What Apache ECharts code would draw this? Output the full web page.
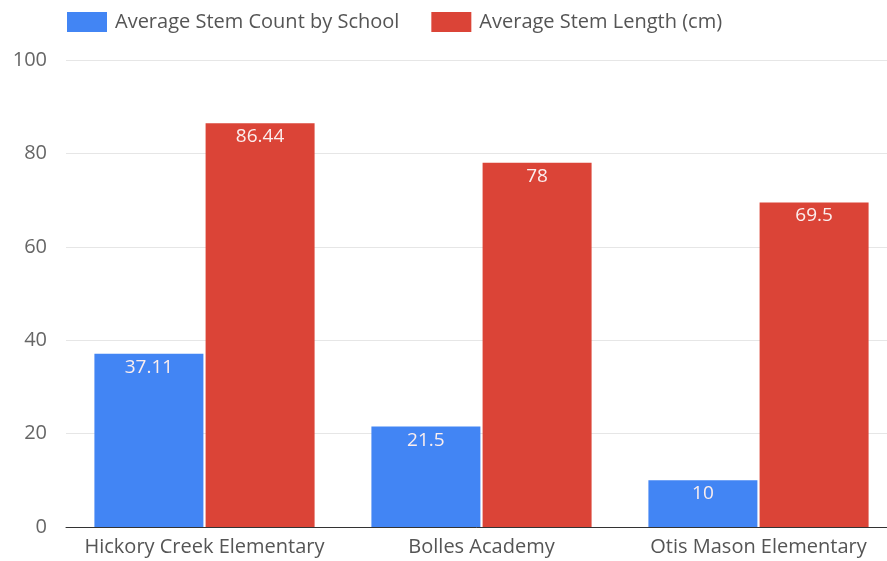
<!DOCTYPE html>
<html><head><meta charset="utf-8">
<script src="https://cdn.jsdelivr.net/npm/echarts@6/dist/echarts.min.js"></script>
<style>html,body{margin:0;padding:0;background:#fff}#c{width:887px;height:561px}</style>
</head><body><div id="c"></div>
<script>
const categories = ['Hickory Creek Elementary', 'Bolles Academy', 'Otis Mason Elementary'];
const seriesNames = ['Average Stem Count by School', 'Average Stem Length (cm)'];
const stemCount = [37.11, 21.5, 10];
const stemLength = [86.44, 78, 69.5];
const yTicks = [0, 20, 40, 60, 80, 100];

const font = '"Open Sans", sans-serif';
const chart = echarts.init(document.getElementById('c'));
const lbl = {show: true, position: 'insideTop', distance: 4, color: '#fbeeee', fontSize: 19, fontFamily: font};
chart.setOption({
  animation: false,
  textStyle: {fontFamily: font},
  legend: {
    left: 67, top: 12, padding: 0, itemWidth: 40, itemHeight: 20, itemGap: 32,
    icon: 'rect',
    textStyle: {fontSize: 20, color: '#555', fontFamily: font, padding: [0, 0, 0, 3]},
    data: seriesNames
  },
  grid: {left: 66, width: 831, top: 60, bottom: 34, containLabel: false, outerBoundsMode: 'none'},
  xAxis: {
    type: 'category', data: categories,
    axisLine: {lineStyle: {color: '#333', width: 1}},
    axisTick: {show: false},
    axisLabel: {fontSize: 20, color: '#555', margin: 10, fontFamily: font, interval: 0}
  },
  yAxis: {
    type: 'value', min: yTicks[0], max: yTicks[yTicks.length - 1], interval: 20,
    axisLine: {show: false}, axisTick: {show: false},
    splitLine: {lineStyle: {color: '#e6e6e6'}},
    axisLabel: {fontSize: 20, color: '#666', margin: 19, fontFamily: font}
  },
  series: [
    {name: seriesNames[0], type: 'bar', data: stemCount, barWidth: 109, barGap: '2%',
     itemStyle: {color: '#4285F4'}, label: lbl},
    {name: seriesNames[1], type: 'bar', data: stemLength, barWidth: 109,
     itemStyle: {color: '#DB4437'}, label: lbl}
  ]
});
</script></body></html>
